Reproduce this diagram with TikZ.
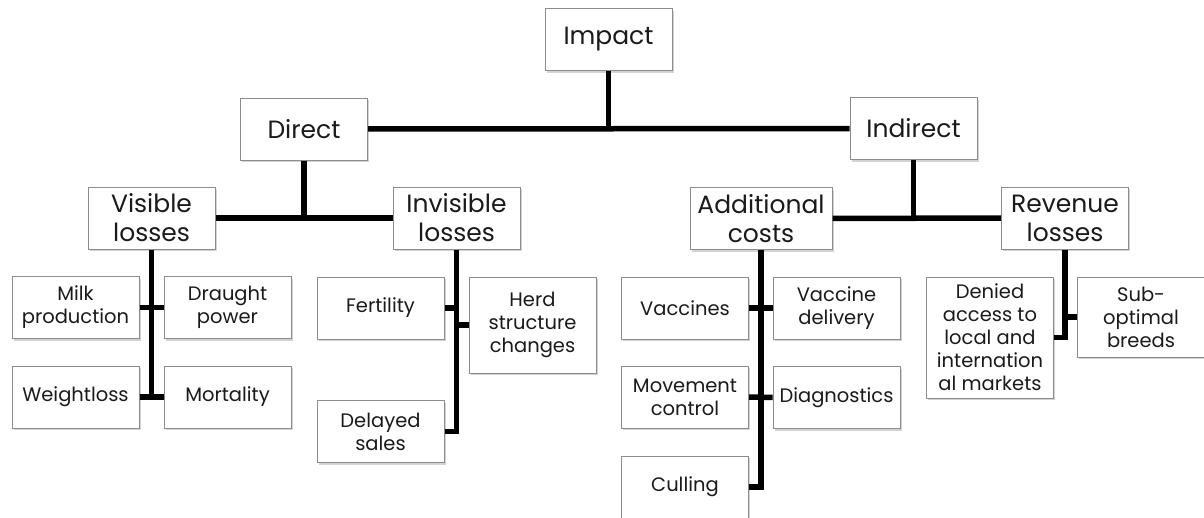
\documentclass[tikz,border=0pt]{standalone}
\usepackage{fontspec}
\setmainfont{Poppins}
\usetikzlibrary{shadows}

\definecolor{boxgray}{HTML}{8C8C8C}
\definecolor{textgray}{HTML}{1A1A1A}

\tikzset{
  box/.style={draw=boxgray, fill=white, line width=1pt, text=textgray, align=center, inner sep=0pt,
    minimum width=127pt, minimum height=62pt,
    drop shadow={shadow xshift=1.5pt, shadow yshift=-2pt, opacity=0.35}},
  upper/.style={box, font=\fontsize{25}{29}\selectfont},
  leaf/.style={box, font=\fontsize{19.5}{23}\selectfont},
  link/.style={line width=5.5pt, black}
}

\begin{document}
\begin{tikzpicture}[x=1pt,y=-1pt]
\useasboundingbox (0,0) rectangle (1204,517);

% top levels
\node[upper] (impact) at (608.5,39.5) {Impact};
\node[upper] (direct) at (304,129) {Direct};
\node[upper] (indirect) at (913.5,128.5) {Indirect};
\node[upper] (visible) at (151.5,218) {Visible\\losses};
\node[upper] (invisible) at (456.5,218) {Invisible\\losses};
\node[upper, minimum width=142pt] (additional) at (761,218.5) {Additional\\costs};
\node[upper] (revenue) at (1065,218) {Revenue\\losses};

% visible losses
\node[leaf] (milk) at (75.5,307.5) {Milk\\production};
\node[leaf] (draught) at (227.5,307.5) {Draught\\power};
\node[leaf] (weightloss) at (75.5,397) {Weightloss};
\node[leaf] (mortality) at (227.5,397) {Mortality};

% invisible losses
\node[leaf] (fertility) at (380.5,308) {Fertility};
\node[leaf, minimum height=96pt] (herd) at (532.5,325) {Herd\\structure\\changes};
\node[leaf] (delayed) at (380.5,431.5) {Delayed\\sales};

% additional costs
\node[leaf] (vaccines) at (685,308) {Vaccines};
\node[leaf] (delivery) at (836.5,308) {Vaccine\\delivery};
\node[leaf] (movement) at (685,397) {Movement\\control};
\node[leaf] (diagnostics) at (836.5,397.5) {Diagnostics};
\node[leaf] (culling) at (685,487) {Culling};

% revenue losses
\node[leaf, minimum height=121pt] (denied) at (990,337.5) {Denied\\access to\\local and\\internation\\al markets};
\node[leaf, minimum height=80pt] (suboptimal) at (1141,317) {Sub-\\optimal\\breeds};

% connectors
\draw[link] (direct) -- (indirect);
\draw[link] (impact.south) -- (impact.south |- direct.east);
\draw[link] (visible) -- (invisible);
\draw[link] (direct.south) -- (direct.south |- visible.east);
\draw[link] (additional) -- (revenue);
\draw[link] (indirect.south) -- (indirect.south |- additional.east);

\draw[link] (visible.south) -- (visible.south |- weightloss.east);
\draw[link] (milk) -- (draught);
\draw[link] (weightloss) -- (mortality);

\draw[link] (invisible.south) |- (delayed.east);
\draw[link] (fertility.east) -- (fertility.east -| invisible.south);
\draw[link] (herd.west) -- (herd.west -| invisible.south);

\draw[link] (additional.south) |- (culling.east);
\draw[link] (vaccines) -- (delivery);
\draw[link] (movement) -- (diagnostics);

\draw[link] (revenue.south) |- (denied.east);
\draw[link] (suboptimal.west) -- (suboptimal.west -| revenue.south);
\end{tikzpicture}
\end{document}
